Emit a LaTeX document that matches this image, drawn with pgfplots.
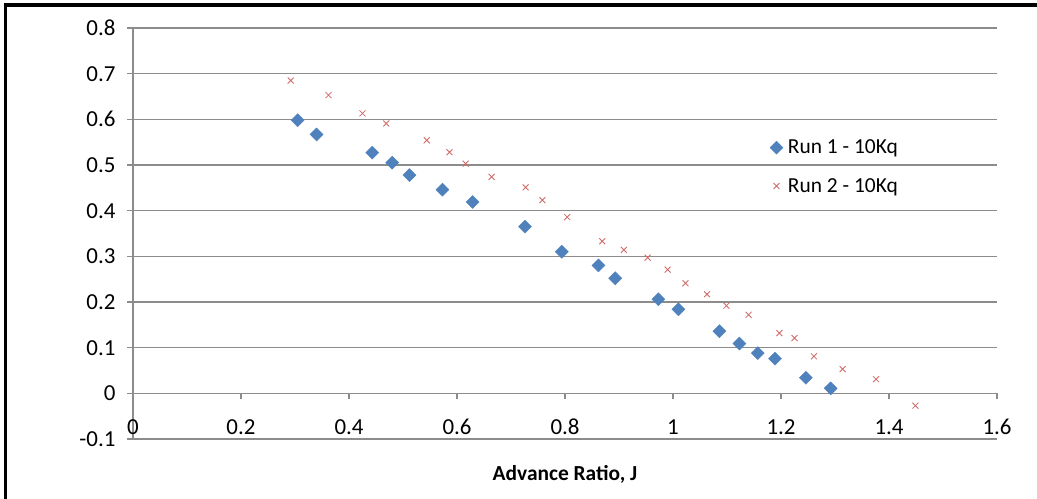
\documentclass[border=0pt]{standalone}
\usepackage{pgfplots}
\pgfplotsset{compat=1.18}
\usepackage{fontspec}
\setmainfont{Carlito}
\definecolor{runblue}{HTML}{4F81BD}
\definecolor{runred}{HTML}{D06A68}
\definecolor{gridgray}{RGB}{140,140,140}
\begin{document}
\begin{tikzpicture}[x=1bp,y=1bp]
\useasboundingbox (0,0) rectangle (1037,499);
\fill[white] (0,0) rectangle (1037,499);
\begin{axis}[
  at={(133bp,60bp)}, anchor=south west,
  scale only axis, width=864bp, height=411bp,
  xmin=0, xmax=1.6, ymin=-0.1, ymax=0.8,
  axis x line*=middle, axis y line*=left,
  hide obscured x ticks=false, hide obscured y ticks=false,
  xtick={0,0.2,0.4,0.6,0.8,1,1.2,1.4,1.6},
  ytick={-0.1,0,0.1,0.2,0.3,0.4,0.5,0.6,0.7,0.8},
  xticklabels={0,0.2,0.4,0.6,0.8,1,1.2,1.4,1.6},
  yticklabels={-0.1,0,0.1,0.2,0.3,0.4,0.5,0.6,0.7,0.8},
  tick align=outside, major tick length=6bp,
  ymajorgrids,
  grid style={gridgray, line width=1.1bp},
  axis line style={gridgray, line width=1.1bp},
  tick style={gridgray, line width=1.1bp},
  /pgf/number format/assume math mode=true,
  ticklabel style={font=\fontsize{23}{27}\selectfont, text=black},
  xticklabel style={anchor=base, yshift=-35bp},
  yticklabel style={xshift=-8bp},
  xlabel={\textbf{Advance Ratio, J}},
  xlabel style={font=\fontsize{21.5}{25}\selectfont, yshift=-24bp},
  legend style={at={(0.737,0.733)}, anchor=north west, draw=none, fill=none,
    font=\fontsize{21.5}{25}\selectfont, row sep=19bp, inner sep=0pt,
    nodes={inner xsep=5bp}},
  legend cell align=left,
  clip=false,
]
\addplot[only marks, mark=square*, mark size=4.6bp, mark options={rotate=45, fill=runblue, draw=runblue}] coordinates {
(0.305,0.598) (0.340,0.567) (0.443,0.527) (0.480,0.505) (0.512,0.478)
(0.573,0.446) (0.629,0.419) (0.726,0.365) (0.794,0.310) (0.862,0.280)
(0.893,0.252) (0.973,0.206) (1.010,0.184) (1.086,0.136) (1.123,0.109)
(1.157,0.088) (1.189,0.076) (1.246,0.034) (1.292,0.011)
};
\addlegendentry{Run 1 - 10Kq}
\addplot[only marks, mark=x, mark size=4.2bp, mark options={draw=runred, line width=0.85bp}] coordinates {
(0.292,0.685) (0.362,0.653) (0.425,0.613) (0.469,0.591) (0.544,0.554)
(0.586,0.528) (0.616,0.503) (0.664,0.474) (0.727,0.451) (0.758,0.423)
(0.804,0.386) (0.869,0.333) (0.909,0.314) (0.953,0.297) (0.990,0.271)
(1.023,0.241) (1.063,0.217) (1.099,0.192) (1.140,0.172) (1.197,0.132)
(1.225,0.121) (1.261,0.081) (1.314,0.053) (1.376,0.031) (1.449,-0.027)
};
\addlegendentry{Run 2 - 10Kq}
\end{axis}
\draw[black, line width=3.2bp] (5.5,0) -- (5.5,494) -- (1037,494);
\end{tikzpicture}
\end{document}
